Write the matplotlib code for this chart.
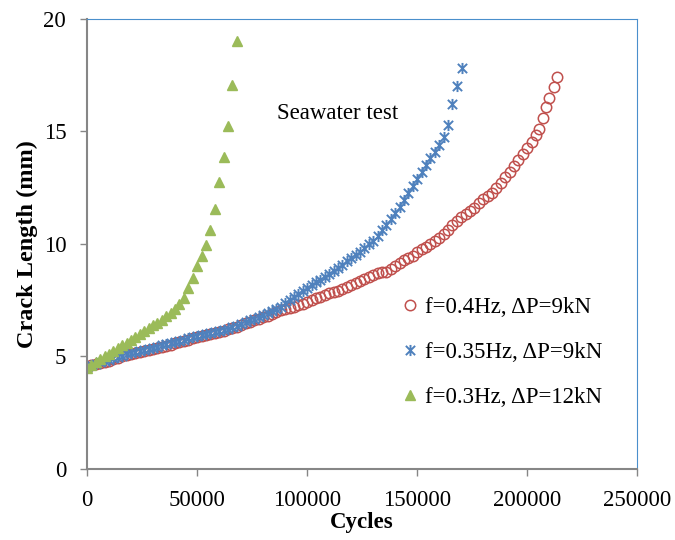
import matplotlib
matplotlib.use('Agg')
import matplotlib.pyplot as plt
from matplotlib.path import Path

plt.rcParams['font.family'] = ['Liberation Serif', 'DejaVu Serif']

# f=0.4Hz, dP=9kN
cycles_a = [0, 2000, 4000, 6000, 8000, 10000, 12000, 14000, 16000, 18000,
            20000, 22000, 24000, 26000, 28000, 30000, 32000, 34000, 36000, 38000,
            40000, 42000, 44000, 46000, 48000, 50000, 52000, 54000, 56000, 58000,
            60000, 62000, 64000, 66000, 68000, 70000, 72000, 74000, 76000, 78000,
            80000, 82000, 84000, 86000, 88000, 90000, 92000, 94000, 96000, 98000,
            100000, 102000, 104000, 106000, 108000, 110000, 112000, 114000, 116000, 118000,
            120000, 122000, 124000, 126000, 128000, 130000, 132000, 134000, 136000, 138000,
            140000, 142000, 144000, 146000, 148000, 150000, 152000, 154000, 156000, 158000,
            160000, 162000, 164000, 166000, 168000, 170000, 172000, 174000, 176000, 178000,
            180000, 182000, 184000, 186000, 188000, 190000, 192000, 194000, 196000, 198000,
            200000, 202000, 204000, 205500, 207000, 208500, 210000, 212000, 213500]
crack_a = [4.55, 4.6, 4.65, 4.7, 4.76, 4.82, 4.88, 4.94, 5.0, 5.06,
           5.1, 5.15, 5.2, 5.24, 5.28, 5.33, 5.38, 5.43, 5.48, 5.53,
           5.58, 5.63, 5.7, 5.75, 5.8, 5.86, 5.92, 5.97, 6.0, 6.05,
           6.1, 6.15, 6.2, 6.25, 6.32, 6.4, 6.47, 6.53, 6.6, 6.67,
           6.74, 6.82, 6.9, 6.98, 7.05, 7.1, 7.16, 7.22, 7.28, 7.35,
           7.42, 7.5, 7.58, 7.66, 7.74, 7.8, 7.86, 7.93, 8.0, 8.08,
           8.17, 8.26, 8.36, 8.45, 8.54, 8.62, 8.7, 8.74, 8.76, 8.9,
           9.0, 9.15, 9.28, 9.38, 9.48, 9.62, 9.76, 9.88, 10.0, 10.14,
           10.28, 10.45, 10.64, 10.82, 11.0, 11.18, 11.32, 11.45, 11.6, 11.8,
           12.0, 12.15, 12.28, 12.5, 12.73, 12.97, 13.2, 13.45, 13.75, 14.0,
           14.27, 14.55, 14.85, 15.1, 15.6, 16.1, 16.5, 16.98, 17.42]

# f=0.35Hz, dP=9kN
cycles_b = [0, 2000, 4000, 6000, 8000, 10000, 12000, 14000, 16000, 18000,
            20000, 22000, 24000, 26000, 28000, 30000, 32000, 34000, 36000, 38000,
            40000, 42000, 44000, 46000, 48000, 50000, 52000, 54000, 56000, 58000,
            60000, 62000, 64000, 66000, 68000, 70000, 72000, 74000, 76000, 78000,
            80000, 82000, 84000, 86000, 88000, 90000, 92000, 94000, 96000, 98000,
            100000, 102000, 104000, 106000, 108000, 110000, 112000, 114000, 116000, 118000,
            120000, 122000, 124000, 126000, 128000, 130000, 132000, 134000, 136000, 138000,
            140000, 142000, 144000, 146000, 148000, 150000, 152000, 154000, 156000, 158000,
            160000, 162000, 164000, 166000, 168000, 170500]
crack_b = [4.55, 4.62, 4.68, 4.74, 4.8, 4.86, 4.92, 4.98, 5.04, 5.09,
           5.14, 5.19, 5.24, 5.29, 5.34, 5.39, 5.44, 5.49, 5.54, 5.59,
           5.64, 5.69, 5.74, 5.8, 5.85, 5.9, 5.95, 6.0, 6.04, 6.08,
           6.13, 6.18, 6.24, 6.3, 6.37, 6.44, 6.52, 6.6, 6.68, 6.76,
           6.84, 6.92, 7.0, 7.1, 7.22, 7.36, 7.5, 7.64, 7.78, 7.92,
           8.05, 8.18, 8.3, 8.42, 8.54, 8.66, 8.8, 8.94, 9.08, 9.22,
           9.36, 9.5, 9.66, 9.82, 9.98, 10.15, 10.35, 10.6, 10.85, 11.1,
           11.38, 11.65, 11.95, 12.25, 12.58, 12.9, 13.2, 13.5, 13.8, 14.1,
           14.4, 14.75, 15.3, 16.2, 17.0, 17.8]

# f=0.3Hz, dP=12kN
cycles_c = [0, 2000, 4000, 6000, 8000, 10000, 12000, 14000, 16000, 18000,
            20000, 22000, 24000, 26000, 28000, 30000, 32000, 34000, 36000, 38000,
            40000, 42000, 44000, 46000, 48000, 50000, 52000, 54000, 56000, 58000,
            60000, 62000, 64000, 66000, 68000]
crack_c = [4.5, 4.6, 4.75, 4.88, 5.0, 5.12, 5.25, 5.38, 5.5, 5.62,
           5.75, 5.88, 6.0, 6.12, 6.28, 6.4, 6.5, 6.62, 6.78, 6.95,
           7.12, 7.35, 7.62, 8.05, 8.5, 9.0, 9.45, 9.95, 10.6, 11.55,
           12.75, 13.85, 15.25, 17.05, 19.0]

labels = ['f=0.4Hz, \u0394P=9kN', 'f=0.35Hz, \u0394P=9kN', 'f=0.3Hz, \u0394P=12kN']

# excel style star: an x with a vertical bar
star = Path([(-1, -1), (1, 1), (-1, 1), (1, -1), (0, -1.2), (0, 1.2)],
            [Path.MOVETO, Path.LINETO, Path.MOVETO, Path.LINETO, Path.MOVETO, Path.LINETO])

fig = plt.figure(figsize=(6.75, 5.4), dpi=100)
ax = fig.add_axes([0.129, 0.1315, 0.815, 0.8335])

ax.plot(cycles_a, crack_a, linestyle='none', marker='o', markersize=7.5,
        markerfacecolor='none', markeredgecolor='#C0504D', markeredgewidth=1.1, label=labels[0])
ax.plot(cycles_b, crack_b, linestyle='none', marker=star, markersize=8,
        markeredgecolor='#4F81BD', markeredgewidth=1.4, label=labels[1])
ax.plot(cycles_c, crack_c, linestyle='none', marker='^', markersize=7.8,
        color='#9BBB59', markeredgecolor='#9BBB59', label=labels[2])

ax.set_xlim(0, 250000)
ax.set_ylim(0, 20)
ax.set_xticks([0, 50000, 100000, 150000, 200000, 250000])
ax.set_yticks([0, 5, 10, 15, 20])
ax.tick_params(direction='out', length=5, width=1, color='#868686', labelsize=16.5)
ax.tick_params(axis='x', pad=10)
ax.tick_params(axis='y', pad=10)

ax.spines['left'].set_color('#868686')
ax.spines['bottom'].set_color('#868686')
ax.spines['left'].set_linewidth(1.5)
ax.spines['bottom'].set_linewidth(1.5)
ax.spines['top'].set_color('#4A8FCC')
ax.spines['right'].set_color('#4A8FCC')

ax.set_xlabel('Cycles', fontsize=16.5, fontweight='bold', labelpad=1)
ax.set_ylabel('Crack Length (mm)', fontsize=17.5, fontweight='bold', labelpad=4)

ax.text(86400, 15.8, 'Seawater test', fontsize=16.5, va='center', ha='left')

ax.legend(loc='center left', bbox_to_anchor=(0.554, 0.258), frameon=False, fontsize=16.5,
          handlelength=0.6, handletextpad=0.35, labelspacing=1.05, borderpad=0)

plt.savefig('out.png', dpi=100)
